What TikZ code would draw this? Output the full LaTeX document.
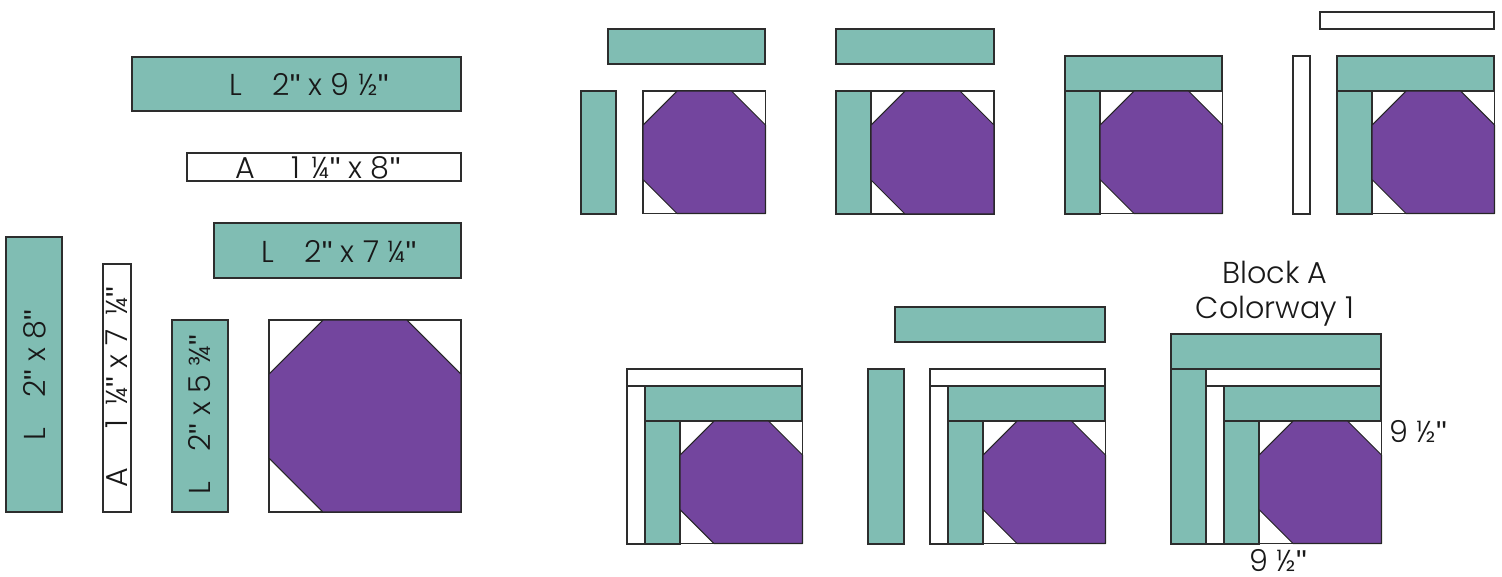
\documentclass[tikz,border=0pt]{standalone}
\usepackage{xcolor}
\usepackage{fontspec}
\setmainfont{Poppins Light}
\newfontfamily\tickfont{Liberation Sans}
\newcommand{\inch}{{\tickfont"}}
\definecolor{StripTeal}{RGB}{128,189,179}
\definecolor{PatchPurple}{RGB}{115,69,158}
\definecolor{EdgeGray}{RGB}{45,45,45}

\begin{document}
\begin{tikzpicture}[
            x=0.02cm, y=-0.02cm,
            strip/.style={draw=EdgeGray, fill=StripTeal, line width=0.6pt},
            sash/.style={draw=EdgeGray, fill=white, line width=0.6pt},
            octa/.style={draw=black!85, fill=PatchPurple, line width=0.6pt, line join=round},
            cut/.style={font=\fontsize{17.2}{17.2}\selectfont, inner sep=0pt, text=black!90},
            tag/.style={font=\fontsize{17.2}{19.8}\selectfont, inner sep=0pt, align=center, text=black!90}
        ]
            \useasboundingbox (0,0) rectangle (1502,576);

            % teal strips
            \foreach \xa/\ya/\xb/\yb in {132/57/461/111, 214/223/461/278, 6/237/62/512, 172/320/228/512,
                                         608/29/765/64, 581/91/616/214,
                                         836/29/994/64, 836/91/871/214,
                                         1065/56/1222/91, 1065/91/1100/214,
                                         1337/56/1494/91, 1337/91/1372/214,
                                         645/386/802/421, 645/421/680/544,
                                         895/307/1105/342, 868/369/904/544, 948/386/1105/421, 948/421/983/544,
                                         1171/334/1381/369, 1171/369/1206/544, 1224/386/1381/421, 1224/421/1259/544}
                \draw[strip] (\xa,\ya) rectangle (\xb,\yb);

            % white strips
            \foreach \xa/\ya/\xb/\yb in {187/153/461/181, 103/264/131/512,
                                         1320/12/1494/29, 1293/56/1310/214,
                                         627/369/802/386, 627/386/645/544,
                                         930/369/1105/386, 930/386/948/544,
                                         1206/369/1381/386, 1206/386/1224/544}
                \draw[sash] (\xa,\ya) rectangle (\xb,\yb);

            % snowball patches
            \foreach \x/\y/\s/\c in {269/320/192/54, 643/91/122.5/34, 871/91/123/34, 1100/91/122.5/34, 1372/91/122.5/34,
                                     680/421/122.5/34, 983/421/122.5/34, 1259/421/122.5/34} {
                \draw[sash] (\x,\y) rectangle ++(\s,\s);
                \draw[octa] (\x,\y) ++(\c,0) -- ++({\s-2*\c},0) -- ++(\c,\c) -- ++(0,{\s-\c})
                    -- ++({\c-\s},0) -- ++(-\c,-\c) -- ++(0,{2*\c-\s}) -- cycle;
            }

            \node[cut] (top)    at (309,85)  {L\hspace{1em}2\inch{} x 9 ½\inch};
            \node[cut] (sashT)  at (318,168) {A\hspace{1.2em}1\hspace{.1em} ¼\inch{} x 8\inch};
            \node[cut] (second) at (339,251) {L\hspace{1em}2\inch{} x 7 ¼\inch};
            \node[cut, rotate=90] (side)  at (35,375)  {L\hspace{1em}2\inch{} x 8\inch};
            \node[cut, rotate=90] (sashL) at (117,387) {A\hspace{1.3em}1\hspace{.2em} ¼\inch{} x 7\hspace{.2em} ¼\inch};
            \node[cut, rotate=90] (first) at (200,415) {L\hspace{1em}2\inch{} x 5 ¾\inch};

            \node[tag] (title)  at (1275,294) {Block A\\Colorway 1};
            \node[tag] (height) at (1418,432) {9 ½\inch};
            \node[tag] (width)  at (1278,561) {9 ½\inch};

        \end{tikzpicture}
\end{document}
